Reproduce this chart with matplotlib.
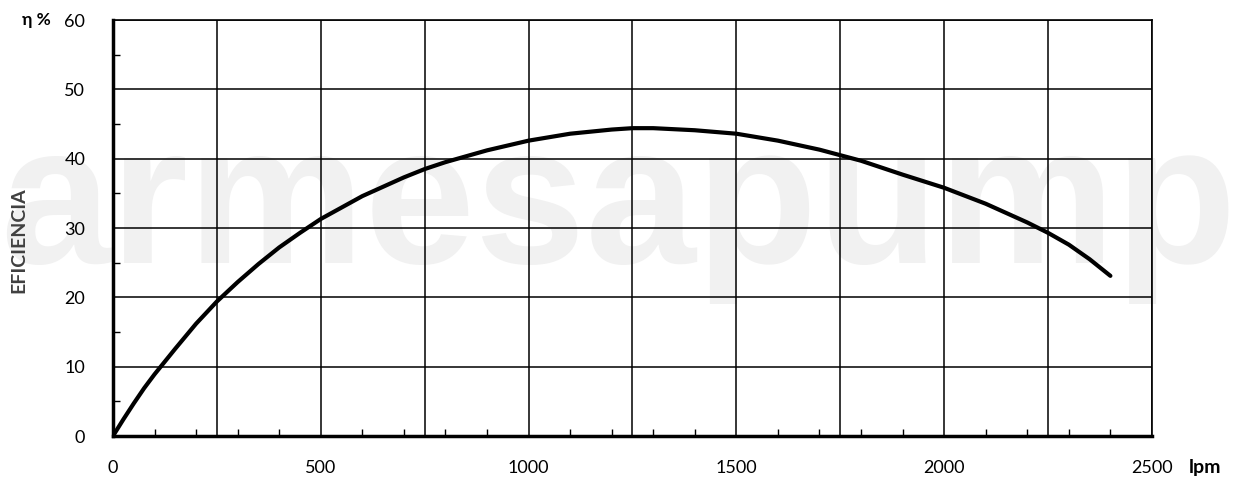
import numpy as np
import matplotlib
matplotlib.use("Agg")
import matplotlib.pyplot as plt
from matplotlib.ticker import MultipleLocator, FuncFormatter

# efficiency curve (flow in lpm, efficiency in %)
flow = [0, 25, 50, 75, 100, 150, 200, 250, 300, 350, 400, 450, 500, 600, 700, 750,
        800, 900, 1000, 1100, 1200, 1250, 1300, 1400, 1500, 1600, 1700, 1750,
        1800, 1900, 2000, 2100, 2200, 2250, 2300, 2350, 2400]
eff = [0, 2.4, 4.7, 6.9, 8.9, 12.6, 16.2, 19.4, 22.2, 24.8, 27.2, 29.3, 31.3, 34.6, 37.3, 38.5,
       39.5, 41.2, 42.6, 43.6, 44.2, 44.4, 44.4, 44.1, 43.6, 42.6, 41.3, 40.5,
       39.7, 37.7, 35.8, 33.5, 30.8, 29.3, 27.6, 25.5, 23.1]

watermark = "armesapump"

plt.rcParams['font.family'] = ['Lato', 'DejaVu Sans']

fig = plt.figure(figsize=(12.36, 4.82), dpi=100)
fig.patch.set_facecolor("white")

# background watermark
fig.text(0.5, 0.454, watermark, ha="center", va="baseline", fontsize=143,
         fontweight="bold", family=["Liberation Sans", "DejaVu Sans"],
         color="#f1f1f1", zorder=0)

ax = fig.add_axes([0.0914, 0.0954, 0.8406, 0.8631])
ax.set_facecolor("none")
ax.set_zorder(1)

ax.plot(flow, eff, color="black", lw=3.0, solid_capstyle="round", zorder=3)

ax.set_xlim(0, 2500)
ax.set_ylim(0, 60)
ax.xaxis.set_major_locator(MultipleLocator(250))
ax.xaxis.set_major_formatter(FuncFormatter(lambda v, p: f"{int(v)}" if v % 500 == 0 else ""))
ax.xaxis.set_minor_locator(MultipleLocator(100))
ax.yaxis.set_major_locator(MultipleLocator(10))
ax.yaxis.set_minor_locator(MultipleLocator(5))

ax.grid(which="major", color="black", lw=1.1)
ax.tick_params(which="major", length=0, labelsize=13)
ax.tick_params(axis="y", which="major", pad=20)
ax.tick_params(axis="x", which="major", pad=17)
ax.tick_params(which="minor", direction="in", length=5, width=1, color="black")

for s in ["left", "bottom"]:
    ax.spines[s].set_linewidth(2.5)
for s in ["top", "right"]:
    ax.spines[s].set_linewidth(1.2)

fig.text(0.018, 0.958, "η %", ha="left", va="center", fontsize=12.5, fontweight="bold")
fig.text(0.015, 0.502, "EFICIENCIA", ha="center", va="center", rotation=90,
         fontsize=14, fontweight="bold", color="#404040")
fig.text(0.962, 0.031, "lpm", ha="left", va="center", fontsize=14, fontweight="bold")

fig.savefig("out.png", dpi=100)
